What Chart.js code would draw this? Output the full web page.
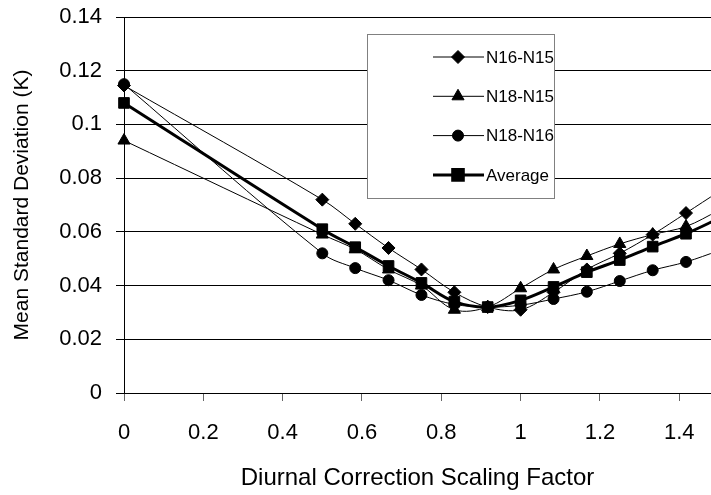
<!DOCTYPE html>
<html>
<head>
<meta charset="utf-8">
<script src="https://cdn.jsdelivr.net/npm/chart.js@4/dist/chart.umd.min.js"></script>
<style>
  html, body { margin: 0; padding: 0; background: #fff; }
  #wrap { width: 711px; height: 495px; }
</style>
</head>
<body>
<div id="wrap"><canvas id="chart" width="711" height="495"></canvas></div>
<script>
const scaling = [0, 0.5, 0.583, 0.667, 0.75, 0.833, 0.917, 1.0, 1.083, 1.167, 1.25, 1.333, 1.417, 1.5];
const n16n15 = [0.1145, 0.072, 0.063, 0.054, 0.046, 0.0375, 0.032, 0.031, 0.0375, 0.046, 0.052, 0.059, 0.067, 0.075];
const n18n15 = [0.094, 0.059, 0.0535, 0.046, 0.040, 0.031, 0.032, 0.039, 0.046, 0.051, 0.0555, 0.059, 0.062, 0.068];
const n18n16 = [0.115, 0.052, 0.0465, 0.042, 0.0365, 0.033, 0.032, 0.0327, 0.035, 0.0377, 0.0417, 0.0457, 0.0488, 0.053];
const average = [0.108, 0.061, 0.0543, 0.0473, 0.041, 0.034, 0.032, 0.0345, 0.0395, 0.045, 0.0495, 0.0545, 0.0593, 0.065];
const seriesNames = ["N16-N15", "N18-N15", "N18-N16", "Average"];
const yTicks = [0, 0.02, 0.04, 0.06, 0.08, 0.1, 0.12, 0.14];
const xTicks = [0, 0.2, 0.4, 0.6, 0.8, 1, 1.2, 1.4];

const FONT = "'Liberation Sans', Arial, sans-serif";

const toPoints = (vals) => vals.map((v, i) => ({ x: scaling[i], y: v }));

// later series sit on top, like the spreadsheet original
const series = (label, vals, style, radius, width, order) => ({
  label: label,
  data: toPoints(vals),
  order: order,
  clip: false,
  borderColor: "#000",
  backgroundColor: "#000",
  borderWidth: width,
  pointStyle: style,
  pointRadius: radius,
  pointBackgroundColor: "#000",
  pointBorderColor: "#000",
  pointBorderWidth: 1,
  tension: 0.35,
});

// legend drawn Excel-style: short line with marker in the middle
const boxLegend = {
  id: "boxLegend",
  afterDatasetsDraw(chart) {
    const ctx = chart.ctx;
    ctx.save();
    ctx.fillStyle = "#fff";
    ctx.fillRect(367.5, 34.5, 187, 164);
    ctx.strokeStyle = "#808080";
    ctx.lineWidth = 1;
    ctx.strokeRect(367.5, 34.5, 187, 164);
    chart.data.datasets.forEach((ds, i) => {
      const y = 57 + i * 39.3;
      ctx.strokeStyle = "#000";
      ctx.lineWidth = ds.borderWidth;
      ctx.beginPath();
      ctx.moveTo(433, y);
      ctx.lineTo(484, y);
      ctx.stroke();
      ctx.fillStyle = "#000";
      Chart.helpers.drawPoint(ctx, {
        pointStyle: ds.pointStyle,
        radius: ds.pointRadius,
        rotation: 0,
        borderWidth: 1,
      }, 458, y);
      ctx.fillStyle = "#000";
      ctx.font = "17px " + FONT;
      ctx.textBaseline = "middle";
      ctx.fillText(ds.label, 486, y + 1);
    });
    ctx.restore();
  },
};

new Chart(document.getElementById("chart"), {
  type: "line",
  data: {
    datasets: [
      series(seriesNames[0], n16n15, "rectRot", 6.5, 1, 3),
      series(seriesNames[1], n18n15, "triangle", 7, 1, 2),
      series(seriesNames[2], n18n16, "circle", 5.5, 1, 1),
      series(seriesNames[3], average, "rect", 7.5, 3, 0),
    ],
  },
  options: {
    responsive: false,
    animation: false,
    layout: { autoPadding: false, padding: 0 },
    plugins: {
      legend: { display: false },
      tooltip: { enabled: false },
    },
    scales: {
      x: {
        type: "linear",
        min: 0,
        max: 1.48,
        afterBuildTicks: (s) => { s.ticks = xTicks.map((v) => ({ value: v })); },
        afterFit: (s) => { s.height = 102; s.paddingRight = 0; s.paddingLeft = 0; },
        ticks: {
          color: "#000",
          font: { family: FONT, size: 22 },
          padding: 19,
          maxRotation: 0,
          callback: (v) => String(Math.round(v * 10) / 10),
        },
        grid: { drawOnChartArea: false, drawTicks: true, tickLength: 8, color: "#666" },
        border: { display: true, color: "#000", width: 1 },
        title: {
          display: true,
          text: "Diurnal Correction Scaling Factor",
          color: "#000",
          font: { family: FONT, size: 24 },
          padding: { top: 4, bottom: 2 },
        },
      },
      y: {
        min: 0,
        max: 0.14,
        afterBuildTicks: (s) => { s.ticks = yTicks.map((v) => ({ value: v })); },
        afterFit: (s) => { s.width = 124; s.paddingTop = 17; s.paddingBottom = 0; },
        ticks: {
          color: "#000",
          font: { family: FONT, size: 22 },
          padding: 14,
          callback: (v) => String(Math.round(v * 100) / 100),
        },
        grid: { color: "#000", lineWidth: 1, drawTicks: true, tickLength: 8 },
        border: { display: true, color: "#000", width: 1 },
        title: {
          display: true,
          text: "Mean Standard Deviation (K)",
          color: "#000",
          font: { family: FONT, size: 21 },
          padding: { top: 10, bottom: 0 },
        },
      },
    },
  },
  plugins: [boxLegend],
});
</script>
</body>
</html>
